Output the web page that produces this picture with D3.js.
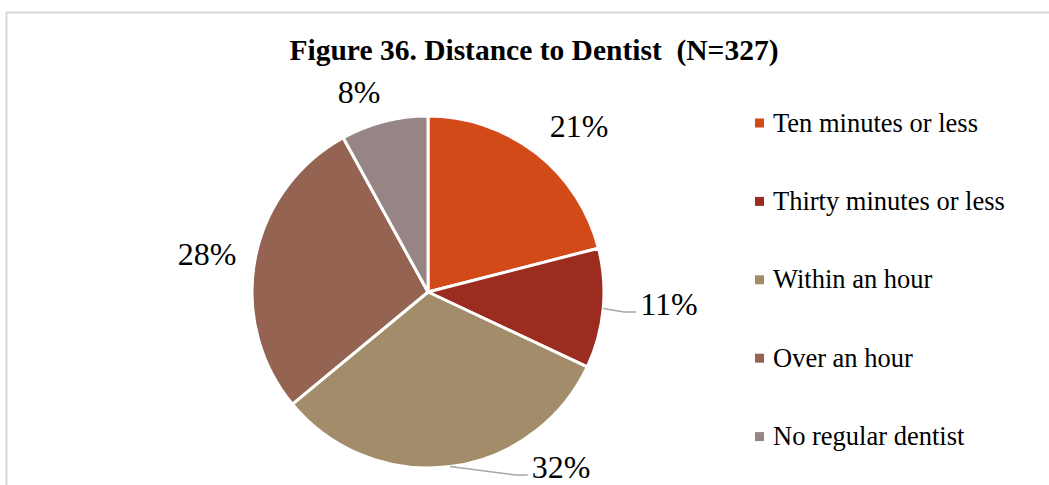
<!DOCTYPE html>
<html>
<head>
<meta charset="utf-8">
<script src="https://cdn.jsdelivr.net/npm/d3@7"></script>
<style>
  html, body { margin: 0; padding: 0; background: #fff; }
  svg { display: block; }
  text { font-family: "Liberation Serif", "Times New Roman", serif; fill: #000; }
</style>
</head>
<body>
<svg id="chart" width="1049" height="485"></svg>
<script>
// ---- data ----
const categories = ["Ten minutes or less", "Thirty minutes or less", "Within an hour", "Over an hour", "No regular dentist"];
const values = [21, 11, 32, 28, 8];
const labels = ["21%", "11%", "32%", "28%", "8%"];
const colors = ["#D24A18", "#9B2C1F", "#A38C6A", "#956351", "#968584"];
const title = "Figure 36. Distance to Dentist  (N=327)";

// ---- layout ----
const W = 1049, H = 485;
const cx = 428, cy = 292, R = 176;
// label anchor offsets from pie centre (text middle, baseline)
const labelPos = [[151, -155], [241, 23], [133, 186], [-221, -27], [-69, -189]];
const leader = [false, true, true, false, false];

const svg = d3.select("#chart");

// outer border
svg.append("rect")
  .attr("x", 6.5).attr("y", 12.5)
  .attr("width", 1100).attr("height", 600)
  .attr("fill", "none").attr("stroke", "#D9D9D9").attr("stroke-width", 2);

svg.append("text")
  .attr("x", 534).attr("y", 60)
  .attr("text-anchor", "middle")
  .attr("font-size", 29.5).attr("font-weight", "bold")
  .style("white-space", "pre")
  .text(title);

const pie = d3.pie().sort(null).value(d => d)(values);
const arc = d3.arc().innerRadius(0).outerRadius(R);

const g = svg.append("g").attr("transform", `translate(${cx},${cy})`);
g.selectAll("path.slice").data(pie).join("path")
  .attr("class", "slice")
  .attr("d", arc)
  .attr("fill", (d, i) => colors[i])
  .attr("stroke", "#fff").attr("stroke-width", 3).attr("stroke-linejoin", "round");

// labels
const lbl = g.selectAll("text.lbl").data(pie).join("text")
  .attr("class", "lbl")
  .attr("x", (d, i) => labelPos[i][0])
  .attr("y", (d, i) => labelPos[i][1])
  .attr("text-anchor", "middle")
  .attr("font-size", 32)
  .text((d, i) => labels[i]);

// leader lines
lbl.each(function(d, i) {
  if (!leader[i]) return;
  const bb = this.getBBox();
  const a = (d.startAngle + d.endAngle) / 2;
  const sx = Math.sin(a) * R, sy = -Math.cos(a) * R;
  const ex = bb.x - 4, ey = labelPos[i][1] - 3;
  g.append("polyline")
    .attr("points", [[sx, sy], [ex - 12, ey], [ex, ey]].map(p => p.join(",")).join(" "))
    .attr("fill", "none").attr("stroke", "#A6A6A6").attr("stroke-width", 1.5);
});

// legend
const leg = svg.append("g").attr("transform", "translate(755,123)");
const rows = leg.selectAll("g").data(categories).join("g")
  .attr("transform", (d, i) => `translate(0,${i * 78.4})`);
rows.append("rect")
  .attr("x", 0).attr("y", -4.5).attr("width", 9).attr("height", 9)
  .attr("fill", (d, i) => colors[i]);
rows.append("text")
  .attr("x", 18).attr("y", 8.5)
  .attr("font-size", 26.5)
  .text(d => d);
</script>
</body>
</html>
